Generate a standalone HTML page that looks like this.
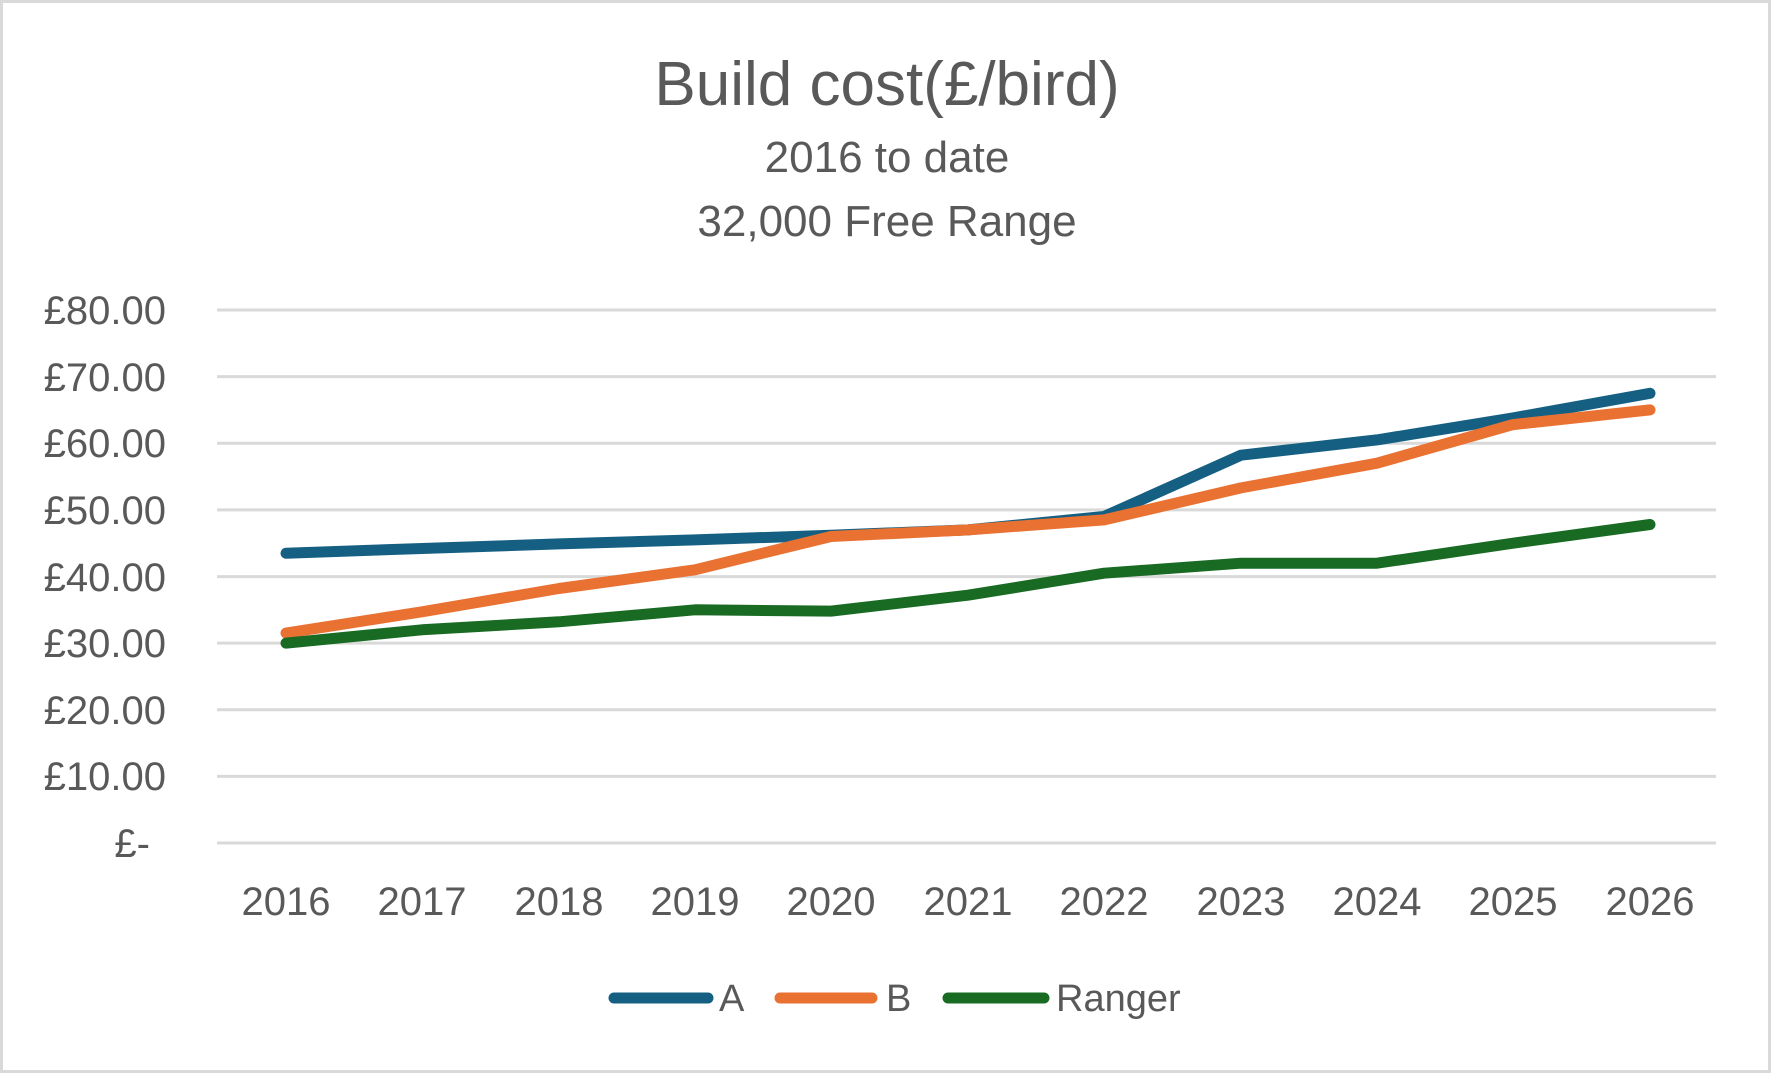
<!DOCTYPE html>
<html><head><meta charset="utf-8"><style>
html,body{margin:0;padding:0;background:#fff}
svg{display:block;font-family:"Liberation Sans",sans-serif}
</style></head><body>
<svg width="1774" height="1075" viewBox="0 0 1774 1075" xmlns="http://www.w3.org/2000/svg">
<rect x="1.5" y="1.5" width="1768" height="1070" fill="#fff" stroke="#d9d9d9" stroke-width="3"/>
<text x="887" y="105" text-anchor="middle" font-size="62" fill="#595959">Build cost(£/bird)</text>
<text x="887" y="172" text-anchor="middle" font-size="44" fill="#595959">2016 to date</text>
<text x="887" y="236" text-anchor="middle" font-size="44" fill="#595959">32,000 Free Range</text>
<g stroke="#d9d9d9" stroke-width="3">
<line x1="217" x2="1716" y1="310" y2="310"/><line x1="217" x2="1716" y1="376.6" y2="376.6"/>
<line x1="217" x2="1716" y1="443.3" y2="443.3"/><line x1="217" x2="1716" y1="509.9" y2="509.9"/>
<line x1="217" x2="1716" y1="576.6" y2="576.6"/><line x1="217" x2="1716" y1="643.1" y2="643.1"/>
<line x1="217" x2="1716" y1="709.8" y2="709.8"/><line x1="217" x2="1716" y1="776.4" y2="776.4"/>
<line x1="217" x2="1716" y1="843" y2="843"/>
</g>
<g font-size="40" fill="#595959" text-anchor="end">
<text x="166" y="324">£80.00</text><text x="166" y="391">£70.00</text><text x="166" y="457">£60.00</text>
<text x="166" y="524">£50.00</text><text x="166" y="591">£40.00</text><text x="166" y="657">£30.00</text>
<text x="166" y="724">£20.00</text><text x="166" y="790">£10.00</text><text x="150" y="857">£-</text>
</g>
<g font-size="40" fill="#595959" text-anchor="middle">
<text x="286" y="915">2016</text><text x="422" y="915">2017</text><text x="559" y="915">2018</text>
<text x="695" y="915">2019</text><text x="831" y="915">2020</text><text x="968" y="915">2021</text>
<text x="1104" y="915">2022</text><text x="1241" y="915">2023</text><text x="1377" y="915">2024</text>
<text x="1513" y="915">2025</text><text x="1650" y="915">2026</text>
</g>
<g fill="none" stroke-width="11" stroke-linecap="round" stroke-linejoin="round">
<polyline stroke="#156082" points="286,553.2 422,548.5 559,543.9 695,539.9 831,535.2 968,529.9 1104,516.5 1241,455.2 1377,439.9 1513,417.9 1650,393.3"/>
<polyline stroke="#E97132" points="286,633.1 422,611.8 559,588.5 695,569.8 831,536.5 968,529.9 1104,519.9 1241,487.9 1377,463.2 1513,424.6 1650,409.9"/>
<polyline stroke="#196B24" points="286,643.1 422,629.8 559,621.8 695,609.8 831,611.1 968,595.2 1104,573.2 1241,563.2 1377,563.2 1513,543.2 1650,524.5"/>
</g>
<g stroke-width="11" stroke-linecap="round">
<line x1="614" x2="708" y1="998" y2="998" stroke="#156082"/>
<line x1="780" x2="872" y1="998" y2="998" stroke="#E97132"/>
<line x1="948" x2="1044" y1="998" y2="998" stroke="#196B24"/>
</g>
<g font-size="38" fill="#595959">
<text x="719" y="1011">A</text><text x="886" y="1011">B</text><text x="1056" y="1011">Ranger</text>
</g>
</svg>
</body></html>
